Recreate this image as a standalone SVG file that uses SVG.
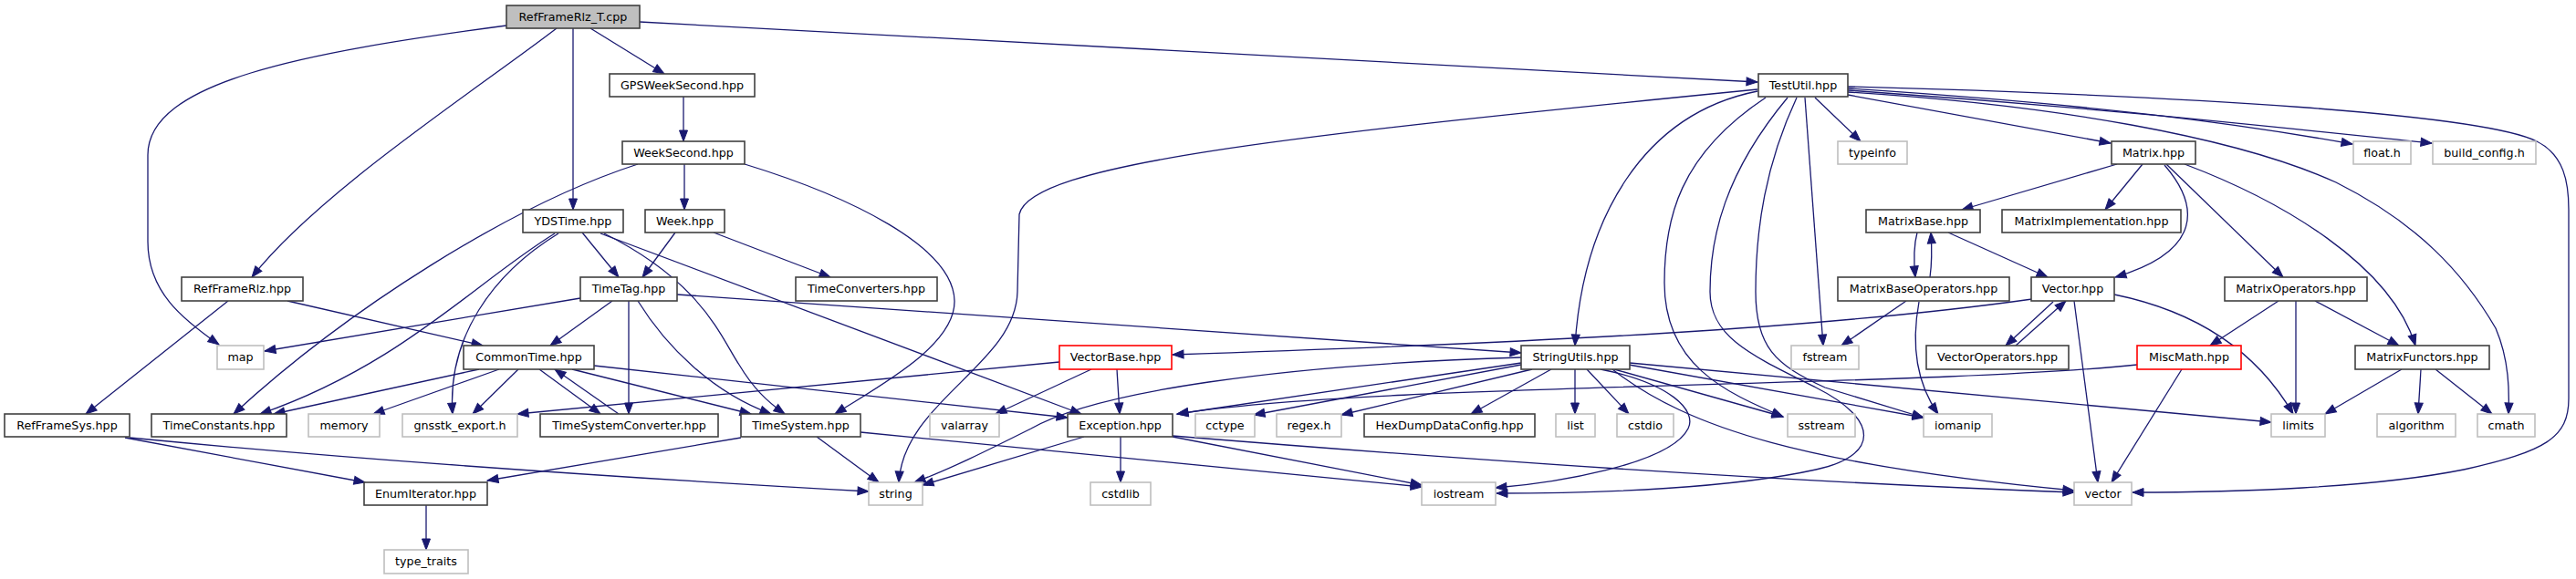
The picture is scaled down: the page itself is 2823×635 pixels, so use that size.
<svg xmlns="http://www.w3.org/2000/svg" width="2823" height="635" viewBox="0 0 2823 635">
<style>
rect{fill:#fff;stroke:#404040;stroke-width:1.6}
.g rect{stroke:#bfbfbf}
.r rect{stroke:#ff0000}
.m rect{fill:#bfbfbf}
text{font-family:"DejaVu Sans","Liberation Sans",sans-serif;font-size:12.7px;text-anchor:middle;fill:#000}
#edges path{fill:none;stroke:#191970;stroke-width:1.3;marker-end:url(#ah)}
</style>
<defs>
<marker id="ah" markerUnits="userSpaceOnUse" markerWidth="13" markerHeight="10" refX="12" refY="4.5" orient="auto" overflow="visible">
<path d="M0,0 L12,4.5 L0,9 Z" fill="#191970" stroke="#191970" stroke-width="1"/>
</marker>
</defs>
<rect x="0" y="0" width="2823" height="635" style="fill:#fff;stroke:none"/>
<g id="edges">
<path d="M555,28 C330,58 162,90 162,170 L162,265 C162,320 200,350 240,378"/>
<path d="M610,31 C520,100 350,210 276,304"/>
<path d="M628,31 L628,230"/>
<path d="M647,31 L728,81"/>
<path d="M701,24 L1926,90"/>
<path d="M749,106 L749,155"/>
<path d="M750,180 L750,230"/>
<path d="M699,180 C560,225 380,340 256,454"/>
<path d="M816,180 C930,215 1045,270 1046,330 C1047,380 960,425 915,454"/>
<path d="M638,255 L678,304"/>
<path d="M608,256 C520,310 440,400 285,454"/>
<path d="M612,256 C540,300 490,370 496,454"/>
<path d="M662,256 C770,310 790,370 810,400 C825,425 840,440 860,454"/>
<path d="M658,256 L1185,454"/>
<path d="M740,255 L704,304"/>
<path d="M782,255 L910,304"/>
<path d="M250,330 L94,454"/>
<path d="M315,330 L529,379"/>
<path d="M636,327 L290,385"/>
<path d="M671,330 L603,379"/>
<path d="M689,330 L689,454"/>
<path d="M699,330 C730,380 780,430 845,454"/>
<path d="M742,323 L1667,387"/>
<path d="M525,405 L300,454"/>
<path d="M547,405 L409,454"/>
<path d="M568,405 L518,454"/>
<path d="M591,405 L658,454"/>
<path d="M678,454 L608,405"/>
<path d="M627,405 L823,454"/>
<path d="M651,401 L1170,458"/>
<path d="M895,479 L963,529"/>
<path d="M812,480 L534,527"/>
<path d="M943,474 L1558,534"/>
<path d="M137,480 L400,529"/>
<path d="M142,480 C400,505 700,525 952,539"/>
<path d="M467,554 L467,603"/>
<path d="M1161,397 L567,454"/>
<path d="M1224,405 L1227,454"/>
<path d="M1196,405 L1091,454"/>
<path d="M1228,479 L1228,529"/>
<path d="M1285,479 L1558,532"/>
<path d="M1285,478 C1700,512 2000,530 2273,540"/>
<path d="M1188,479 L1011,532"/>
<path d="M1667,392 C1400,400 1200,430 1130,470 C1080,495 1040,515 1002,529"/>
<path d="M1667,398 L1290,454"/>
<path d="M1667,400 L1374,455"/>
<path d="M1679,405 L1470,455"/>
<path d="M1700,405 L1612,454"/>
<path d="M1726,405 L1726,454"/>
<path d="M1739,405 L1785,454"/>
<path d="M1769,405 L1954,457"/>
<path d="M1785,400 L2108,458"/>
<path d="M1786,398 L2489,463"/>
<path d="M1754,405 C1830,420 1860,450 1850,470 C1830,510 1700,530 1639,535"/>
<path d="M1767,405 C1850,470 1980,510 2273,538"/>
<path d="M1926,98 C1400,150 1130,180 1117,235 L1115,320 C1113,400 990,440 985,529"/>
<path d="M1926,100 C1800,125 1735,240 1726,379"/>
<path d="M1935,107 C1840,170 1824,240 1824,310 C1824,400 1890,430 1954,457"/>
<path d="M1959,107 C1890,190 1874,260 1874,320 C1874,370 1920,390 1990,425 C2060,460 2060,500 1990,515 C1900,535 1760,541 1640,541"/>
<path d="M1969,107 C1935,180 1924,250 1924,320 C1924,380 1945,400 2000,425 L2108,458"/>
<path d="M1978,107 L1998,379"/>
<path d="M1989,107 L2039,155"/>
<path d="M2025,104 L2313,157"/>
<path d="M2025,95 C2400,105 2720,125 2780,155 C2810,170 2815,200 2815,230 L2815,437 C2815,480 2790,495 2700,515 C2600,535 2450,540 2337,540"/>
<path d="M2025,97 C2300,115 2450,135 2578,158"/>
<path d="M2025,99 C2300,118 2500,140 2665,157"/>
<path d="M2025,101 C2250,115 2450,150 2560,200 C2650,245 2700,300 2735,360 C2750,395 2750,430 2749,454"/>
<path d="M2320,180 L2150,230"/>
<path d="M2348,180 L2307,230"/>
<path d="M2372,181 C2410,225 2415,275 2318,304"/>
<path d="M2374,180 L2502,304"/>
<path d="M2394,180 C2500,220 2620,290 2647,379"/>
<path d="M2101,255 C2097,270 2097,285 2099,304"/>
<path d="M2115,304 C2117,290 2117,270 2116,255"/>
<path d="M2135,255 L2244,304"/>
<path d="M2089,330 L2018,379"/>
<path d="M2103,331 C2094,380 2100,420 2124,454"/>
<path d="M2227,328 C2000,360 1700,375 1285,389"/>
<path d="M2250,331 L2198,379"/>
<path d="M2209,379 L2264,330"/>
<path d="M2317,323 C2400,340 2470,380 2513,454"/>
<path d="M2273,330 L2299,529"/>
<path d="M2497,330 L2422,379"/>
<path d="M2516,330 L2516,454"/>
<path d="M2537,330 L2629,379"/>
<path d="M2342,400 C2100,425 1500,420 1290,454"/>
<path d="M2391,405 L2314,529"/>
<path d="M2632,405 L2548,454"/>
<path d="M2653,405 L2650,454"/>
<path d="M2669,405 L2731,454"/>
</g>
<g id="n_RefFrameRlz_T_cpp" class="m"><rect x="555" y="6" width="146" height="25"/><text x="628" y="22.5">RefFrameRlz_T.cpp</text></g>
<g id="n_GPSWeekSecond"><rect x="668" y="81" width="159" height="25"/><text x="747.5" y="97.5">GPSWeekSecond.hpp</text></g>
<g id="n_TestUtil"><rect x="1927" y="81" width="98" height="25"/><text x="1976" y="97.5">TestUtil.hpp</text></g>
<g id="n_WeekSecond"><rect x="682" y="155" width="134" height="25"/><text x="749" y="171.5">WeekSecond.hpp</text></g>
<g id="n_typeinfo" class="g"><rect x="2014" y="155" width="76" height="25"/><text x="2052" y="171.5">typeinfo</text></g>
<g id="n_Matrix"><rect x="2314" y="155" width="92" height="25"/><text x="2360" y="171.5">Matrix.hpp</text></g>
<g id="n_float_h" class="g"><rect x="2579" y="155" width="63" height="25"/><text x="2610.5" y="171.5">float.h</text></g>
<g id="n_build_config" class="g"><rect x="2666" y="155" width="113" height="25"/><text x="2722.5" y="171.5">build_config.h</text></g>
<g id="n_YDSTime"><rect x="573" y="230" width="110" height="25"/><text x="628" y="246.5">YDSTime.hpp</text></g>
<g id="n_Week"><rect x="707" y="230" width="87" height="25"/><text x="750.5" y="246.5">Week.hpp</text></g>
<g id="n_MatrixBase"><rect x="2045" y="230" width="125" height="25"/><text x="2107.5" y="246.5">MatrixBase.hpp</text></g>
<g id="n_MatrixImplementation"><rect x="2194" y="230" width="196" height="25"/><text x="2292" y="246.5">MatrixImplementation.hpp</text></g>
<g id="n_RefFrameRlz"><rect x="199" y="304" width="133" height="26"/><text x="265.5" y="321">RefFrameRlz.hpp</text></g>
<g id="n_TimeTag"><rect x="636" y="304" width="106" height="26"/><text x="689" y="321">TimeTag.hpp</text></g>
<g id="n_TimeConverters"><rect x="872" y="304" width="155" height="26"/><text x="949.5" y="321">TimeConverters.hpp</text></g>
<g id="n_MatrixBaseOperators"><rect x="2014" y="304" width="188" height="26"/><text x="2108" y="321">MatrixBaseOperators.hpp</text></g>
<g id="n_Vector"><rect x="2226" y="304" width="91" height="26"/><text x="2271.5" y="321">Vector.hpp</text></g>
<g id="n_MatrixOperators"><rect x="2438" y="304" width="156" height="26"/><text x="2516" y="321">MatrixOperators.hpp</text></g>
<g id="n_map" class="g"><rect x="238" y="379" width="51" height="26"/><text x="263.5" y="396">map</text></g>
<g id="n_CommonTime"><rect x="508" y="379" width="143" height="26"/><text x="579.5" y="396">CommonTime.hpp</text></g>
<g id="n_VectorBase" class="r"><rect x="1161" y="379" width="123" height="26"/><text x="1222.5" y="396">VectorBase.hpp</text></g>
<g id="n_StringUtils"><rect x="1667" y="379" width="119" height="26"/><text x="1726.5" y="396">StringUtils.hpp</text></g>
<g id="n_fstream" class="g"><rect x="1963" y="379" width="74" height="26"/><text x="2000" y="396">fstream</text></g>
<g id="n_VectorOperators"><rect x="2111" y="379" width="156" height="26"/><text x="2189" y="396">VectorOperators.hpp</text></g>
<g id="n_MiscMath" class="r"><rect x="2342" y="379" width="114" height="26"/><text x="2399" y="396">MiscMath.hpp</text></g>
<g id="n_MatrixFunctors"><rect x="2581" y="379" width="147" height="26"/><text x="2654.5" y="396">MatrixFunctors.hpp</text></g>
<g id="n_RefFrameSys"><rect x="5" y="454" width="137" height="25"/><text x="73.5" y="470.5">RefFrameSys.hpp</text></g>
<g id="n_TimeConstants"><rect x="166" y="454" width="148" height="25"/><text x="240" y="470.5">TimeConstants.hpp</text></g>
<g id="n_memory" class="g"><rect x="338" y="454" width="78" height="25"/><text x="377" y="470.5">memory</text></g>
<g id="n_gnsstk_export" class="g"><rect x="441" y="454" width="126" height="25"/><text x="504" y="470.5">gnsstk_export.h</text></g>
<g id="n_TimeSystemConverter"><rect x="592" y="454" width="195" height="25"/><text x="689.5" y="470.5">TimeSystemConverter.hpp</text></g>
<g id="n_TimeSystem"><rect x="812" y="454" width="131" height="25"/><text x="877.5" y="470.5">TimeSystem.hpp</text></g>
<g id="n_valarray" class="g"><rect x="1019" y="454" width="76" height="25"/><text x="1057" y="470.5">valarray</text></g>
<g id="n_Exception"><rect x="1170" y="454" width="115" height="25"/><text x="1227.5" y="470.5">Exception.hpp</text></g>
<g id="n_cctype" class="g"><rect x="1310" y="454" width="65" height="25"/><text x="1342.5" y="470.5">cctype</text></g>
<g id="n_regex_h" class="g"><rect x="1399" y="454" width="71" height="25"/><text x="1434.5" y="470.5">regex.h</text></g>
<g id="n_HexDumpDataConfig"><rect x="1495" y="454" width="187" height="25"/><text x="1588.5" y="470.5">HexDumpDataConfig.hpp</text></g>
<g id="n_list" class="g"><rect x="1705" y="454" width="43" height="25"/><text x="1726.5" y="470.5">list</text></g>
<g id="n_cstdio" class="g"><rect x="1772" y="454" width="62" height="25"/><text x="1803" y="470.5">cstdio</text></g>
<g id="n_sstream" class="g"><rect x="1959" y="454" width="74" height="25"/><text x="1996" y="470.5">sstream</text></g>
<g id="n_iomanip" class="g"><rect x="2108" y="454" width="75" height="25"/><text x="2145.5" y="470.5">iomanip</text></g>
<g id="n_limits" class="g"><rect x="2489" y="454" width="59" height="25"/><text x="2518.5" y="470.5">limits</text></g>
<g id="n_algorithm" class="g"><rect x="2605" y="454" width="86" height="25"/><text x="2648" y="470.5">algorithm</text></g>
<g id="n_cmath" class="g"><rect x="2715" y="454" width="63" height="25"/><text x="2746.5" y="470.5">cmath</text></g>
<g id="n_EnumIterator"><rect x="399" y="529" width="135" height="25"/><text x="466.5" y="545.5">EnumIterator.hpp</text></g>
<g id="n_string" class="g"><rect x="952" y="529" width="59" height="25"/><text x="981.5" y="545.5">string</text></g>
<g id="n_cstdlib" class="g"><rect x="1195" y="529" width="66" height="25"/><text x="1228" y="545.5">cstdlib</text></g>
<g id="n_iostream" class="g"><rect x="1558" y="529" width="81" height="25"/><text x="1598.5" y="545.5">iostream</text></g>
<g id="n_vector" class="g"><rect x="2273" y="529" width="63" height="25"/><text x="2304.5" y="545.5">vector</text></g>
<g id="n_type_traits" class="g"><rect x="421" y="603" width="92" height="26"/><text x="467" y="620">type_traits</text></g>
</svg>
